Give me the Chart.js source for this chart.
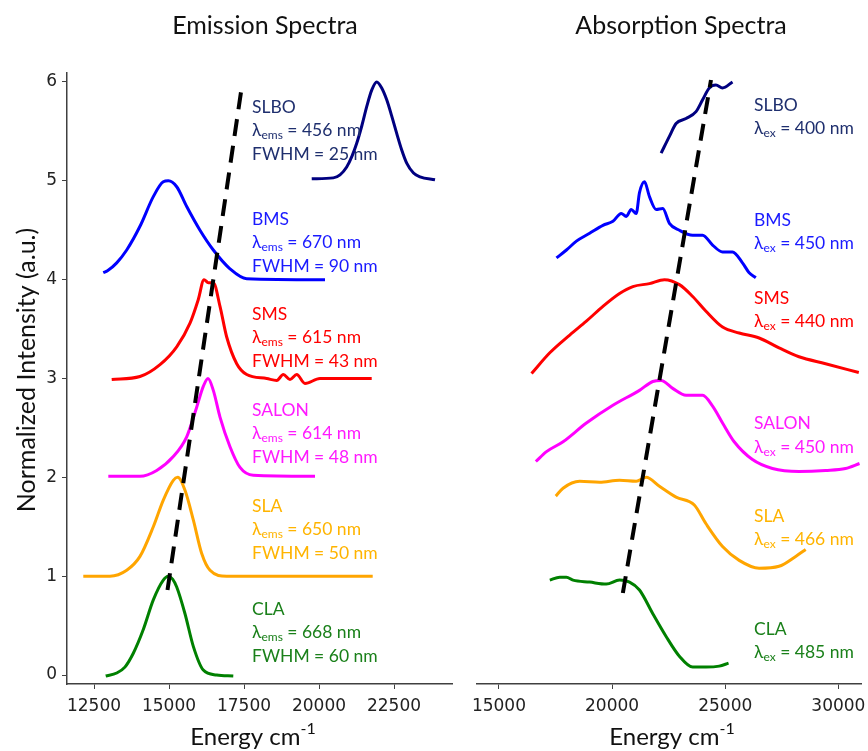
<!DOCTYPE html>
<html>
<head>
<meta charset="utf-8">
<script src="https://cdn.jsdelivr.net/npm/chart.js@4.4.0/dist/chart.umd.min.js"></script>
<style>
  html, body { margin: 0; padding: 0; background: #fff; }
  #wrap { position: relative; width: 868px; height: 751px; }
  #emis { position: absolute; left: 0; top: 0; }
  #abs { position: absolute; left: 460px; top: 0; }
</style>
</head>
<body>
<div id="wrap">
  <canvas id="emis" width="460" height="751"></canvas>
  <canvas id="abs" width="408" height="751"></canvas>
</div>
<script>
// sample names and their numbers
const samples = ['SLBO', 'BMS', 'SMS', 'SALON', 'SLA', 'CLA']
const emsNm = [456, 670, 615, 614, 650, 668]
const fwhmNm = [25, 90, 43, 48, 50, 60]
const exNm = [400, 450, 440, 450, 466, 485]
const colors = ['#000080', '#0000ff', '#ff0000', '#ff00ff', '#ffa500', '#008000']
const textColors = ['#1f2f6e', '#1a1aff', '#ff0000', '#ff1aff', '#ffb400', '#1a801a']

// emission spectra (energy cm-1, normalized intensity + offset)
const slboEmX = [19757, 20477, 20700, 20923, 21100, 21257, 21430, 21590, 21760, 21923, 22090, 22257, 22420, 22590, 22760, 22923, 23150, 23367, 23867]
const slboEmY = [5.02, 5.03, 5.06, 5.14, 5.25, 5.38, 5.56, 5.75, 5.92, 6.0, 5.94, 5.82, 5.66, 5.48, 5.31, 5.18, 5.08, 5.04, 5.01]
const bmsEmX = [12810, 12950, 13257, 13590, 14033, 14477, 14810, 14977, 15257, 15590, 16033, 16477, 17033, 17590, 20200]
const bmsEmY = [4.07, 4.09, 4.17, 4.30, 4.54, 4.84, 4.99, 5.0, 4.94, 4.74, 4.5, 4.30, 4.11, 4.01, 4.0]
const smsEmX = [13090, 14033, 14700, 15257, 15700, 15977, 16167, 16310, 16477, 16700, 16923, 17257, 17590, 18257, 18590, 18810, 19033, 19257, 19533, 20033, 21757]
const smsEmY = [2.99, 3.02, 3.14, 3.32, 3.56, 3.80, 4.0, 3.97, 3.97, 3.73, 3.42, 3.15, 3.04, 3.0, 2.98, 3.04, 2.99, 3.04, 2.95, 3.0, 3.0]
const salonEmX = [12977, 14033, 14590, 15143, 15590, 15923, 16143, 16300, 16477, 16700, 17033, 17367, 17810, 19867]
const salonEmY = [2.01, 2.01, 2.07, 2.21, 2.41, 2.71, 2.92, 3.0, 2.88, 2.61, 2.31, 2.1, 2.02, 2.01]
const slaEmX = [12143, 12600, 13033, 13590, 14033, 14477, 14810, 15143, 15290, 15533, 15810, 16090, 16367, 16923, 18000, 21790]
const slaEmY = [1.0, 1.0, 1.0, 1.06, 1.2, 1.5, 1.77, 1.97, 2.0, 1.87, 1.57, 1.23, 1.06, 1.0, 1.0, 1.0]
const claEmX = [12890, 13257, 13530, 13810, 14143, 14477, 14810, 14977, 15120, 15257, 15533, 15810, 16143, 16590, 17143]
const claEmY = [-0.01, 0.02, 0.08, 0.22, 0.46, 0.76, 0.96, 1.0, 0.97, 0.89, 0.62, 0.29, 0.05, 0.0, -0.01]

// absorption spectra
const slboAbX = [22167, 22533, 22828, 23268, 23709, 24000, 24295, 24590, 24881, 25322]
const slboAbY = [5.28, 5.45, 5.58, 5.63, 5.70, 5.82, 5.94, 5.97, 5.94, 6.0]
const bmsAbX = [17542, 17982, 18423, 19009, 19596, 20037, 20405, 20626, 20846, 21066, 21211, 21432, 21652, 21946, 22240, 22533, 22974, 23562, 24000, 24441, 24881, 25322, 25762, 26057, 26350]
const bmsAbY = [4.22, 4.30, 4.39, 4.47, 4.55, 4.59, 4.67, 4.64, 4.71, 4.67, 4.88, 4.99, 4.84, 4.71, 4.72, 4.57, 4.50, 4.45, 4.45, 4.35, 4.28, 4.28, 4.17, 4.07, 4.02]
const smsAbX = [16440, 17247, 18128, 18863, 19596, 20330, 20918, 21652, 22313, 22974, 23562, 24150, 24881, 25617, 26498, 27379, 28260, 29435, 30903]
const smsAbY = [3.05, 3.26, 3.44, 3.58, 3.73, 3.86, 3.93, 3.96, 4.0, 3.95, 3.83, 3.68, 3.52, 3.46, 3.41, 3.31, 3.22, 3.15, 3.06]
const salonAbX = [16630, 17101, 17833, 18863, 20037, 21211, 21799, 22167, 22679, 23268, 24000, 24441, 24881, 25396, 26204, 27085, 28260, 29435, 30317, 30934]
const salonAbY = [2.16, 2.26, 2.36, 2.55, 2.73, 2.88, 2.97, 2.98, 2.90, 2.83, 2.83, 2.72, 2.55, 2.36, 2.18, 2.09, 2.06, 2.07, 2.09, 2.14]
const slaAbX = [17511, 17833, 18568, 19449, 20330, 21066, 21506, 22093, 22828, 23634, 24150, 24881, 25617, 26498, 27379, 28114, 28555]
const slaAbY = [1.81, 1.89, 1.96, 1.95, 1.97, 1.96, 2.0, 1.91, 1.80, 1.72, 1.53, 1.30, 1.16, 1.08, 1.10, 1.20, 1.27]
const claAbX = [17247, 17687, 17982, 18275, 19009, 19744, 20330, 20771, 21211, 21799, 22387, 22974, 23562, 24150, 24736, 25146]
const claAbY = [0.96, 0.99, 0.99, 0.96, 0.94, 0.92, 0.96, 0.94, 0.86, 0.62, 0.39, 0.19, 0.08, 0.08, 0.09, 0.12]

// dashed guide lines through the peaks
const emTrendX = [14950, 17420]
const emTrendY = [0.86, 5.94]
const abTrendX = [20476, 24370]
const abTrendY = [0.83, 6.02]

const emTicks = [12500, 15000, 17500, 20000, 22500]
const abTicks = [15000, 20000, 25000, 30000]

const FONT = 'Lato, "Open Sans", sans-serif'

function pts(xs, ys) {
  return xs.map((x, i) => ({ x: x, y: ys[i] }))
}

function curves(list) {
  return list.map((c, i) => ({
    label: samples[i],
    data: pts(c[0], c[1]),
    borderColor: colors[i],
    borderWidth: 3,
    pointRadius: 0,
    fill: false,
    cubicInterpolationMode: 'monotone'
  }))
}

function trend(xs, ys) {
  return {
    label: 'trend',
    data: pts(xs, ys),
    borderColor: '#000',
    borderWidth: 4,
    borderDash: [17, 10],
    pointRadius: 0,
    fill: false
  }
}

// draw a line made of pieces (normal text, subscript, superscript)
function drawPieces(ctx, x, y, pieces, color, align) {
  let total = 0
  pieces.forEach(p => {
    ctx.font = p.size + 'px ' + FONT
    p.w = ctx.measureText(p.text).width
    total += p.w
  })
  let cx = align === 'center' ? x - total / 2 : x
  ctx.fillStyle = color
  ctx.textAlign = 'left'
  ctx.textBaseline = 'middle'
  pieces.forEach(p => {
    ctx.font = p.size + 'px ' + FONT
    ctx.fillText(p.text, cx, y + (p.dy || 0))
    cx += p.w
  })
}

const textLayer = {
  id: 'textLayer',
  afterDraw(chart, args, opts) {
    const ctx = chart.ctx
    ctx.save()
    drawPieces(ctx, opts.titleX, 26, [{ text: opts.title, size: 25 }], '#111', 'center')
    drawPieces(ctx, opts.xTitleX, 737, [
      { text: 'Energy cm', size: 24 },
      { text: '-1', size: 16, dy: -8 }
    ], '#111', 'center')
    if (opts.yTitle) {
      ctx.save()
      ctx.translate(27, 370)
      ctx.rotate(-Math.PI / 2)
      drawPieces(ctx, 0, 0, [{ text: opts.yTitle, size: 25 }], '#111', 'center')
      ctx.restore()
    }
    opts.rows.forEach((top, i) => {
      const c = textColors[i]
      drawPieces(ctx, opts.labelX, top, [{ text: samples[i], size: 17.5 }], c)
      drawPieces(ctx, opts.labelX, top + 23.5, [
        { text: 'λ', size: 17.5 },
        { text: opts.sub, size: 12, dy: 5 },
        { text: ' = ' + opts.nm[i] + ' nm', size: 17.5 }
      ], c)
      if (opts.fwhm) {
        drawPieces(ctx, opts.labelX, top + 47, [{ text: 'FWHM = ' + opts.fwhm[i] + ' nm', size: 17.5 }], c)
      }
    })
    ctx.restore()
  }
}

function xAxis(min, max, ticks) {
  return {
    type: 'linear',
    min: min,
    max: max,
    afterBuildTicks: s => { s.ticks = ticks.map(v => ({ value: v })) },
    afterFit: s => { s.height = 67; s.paddingLeft = 0; s.paddingRight = 0 },
    border: { display: true, color: '#404040', width: 1.5 },
    grid: { display: true, drawOnChartArea: false, tickLength: 5, color: '#404040' },
    ticks: {
      font: { family: 'DejaVu Sans', size: 17 }, color: '#222', padding: 7, maxRotation: 0,
      callback: v => String(v)
    }
  }
}

function yAxis(show) {
  return {
    type: 'linear',
    display: show,
    min: -0.091,
    max: 6.091,
    afterBuildTicks: s => { s.ticks = [0, 1, 2, 3, 4, 5, 6].map(v => ({ value: v })) },
    afterFit: s => { s.width = show ? 67 : 0; s.paddingTop = 0; s.paddingBottom = 0 },
    border: { display: true, color: '#404040', width: 1.5 },
    grid: { display: true, drawOnChartArea: false, tickLength: 5, color: '#404040' },
    ticks: { font: { family: 'DejaVu Sans', size: 17 }, color: '#222', padding: 5 }
  }
}

const common = {
  type: 'line',
  plugins: [textLayer]
}

new Chart(document.getElementById('emis'), {
  ...common,
  data: {
    datasets: [trend(emTrendX, emTrendY)].concat(curves([
      [slboEmX, slboEmY], [bmsEmX, bmsEmY], [smsEmX, smsEmY],
      [salonEmX, salonEmY], [slaEmX, slaEmY], [claEmX, claEmY]
    ]))
  },
  options: {
    responsive: false,
    animation: false,
    layout: { padding: { left: 0, top: 73, right: 8, bottom: 0 } },
    scales: { x: xAxis(11600, 24433, emTicks), y: yAxis(true) },
    plugins: {
      legend: { display: false },
      tooltip: { enabled: false },
      textLayer: {
        title: 'Emission Spectra', titleX: 265, xTitleX: 253,
        yTitle: 'Normalized Intensity (a.u.)',
        labelX: 252, rows: [107, 219, 314, 410, 506, 609],
        sub: 'ems', nm: emsNm, fwhm: fwhmNm
      }
    }
  }
})

new Chart(document.getElementById('abs'), {
  ...common,
  data: {
    datasets: [trend(abTrendX, abTrendY)].concat(curves([
      [slboAbX, slboAbY], [bmsAbX, bmsAbY], [smsAbX, smsAbY],
      [salonAbX, salonAbY], [slaAbX, slaAbY], [claAbX, claAbY]
    ]))
  },
  options: {
    responsive: false,
    animation: false,
    layout: { padding: { left: 17, top: 73, right: 7, bottom: 0 } },
    scales: { x: xAxis(14030, 31000, abTicks), y: yAxis(false) },
    plugins: {
      legend: { display: false },
      tooltip: { enabled: false },
      textLayer: {
        title: 'Absorption Spectra', titleX: 221, xTitleX: 212,
        labelX: 294, rows: [105, 220, 298, 423.5, 516, 629],
        sub: 'ex', nm: exNm
      }
    }
  }
})
</script>
</body>
</html>
